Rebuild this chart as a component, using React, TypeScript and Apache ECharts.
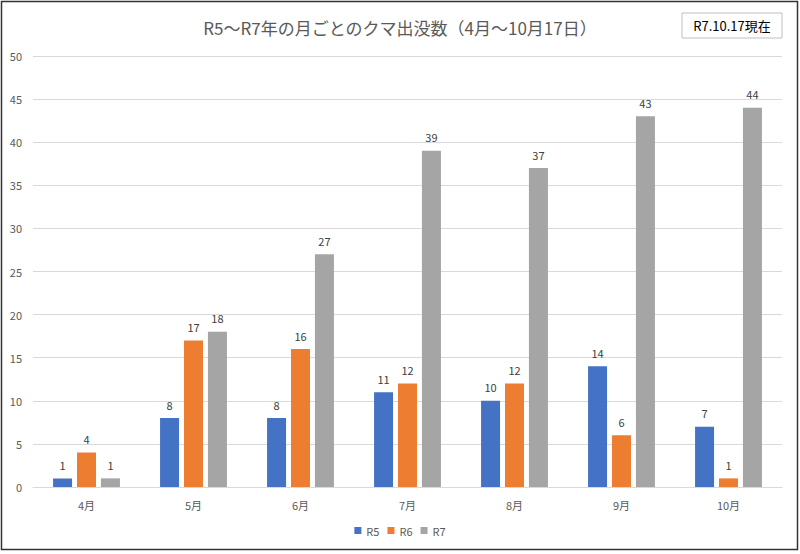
import React, { useEffect, useRef } from "react";
import * as echarts from "echarts";

const categories = ["4月", "5月", "6月", "7月", "8月", "9月", "10月"];
const r5 = [1, 8, 8, 11, 10, 14, 7];
const r6 = [4, 17, 16, 12, 12, 6, 1];
const r7 = [1, 18, 27, 39, 37, 43, 44];
const seriesNames = ["R5", "R6", "R7"];
const titleText = "R5～R7年の月ごとのクマ出没数（4月～10月17日）";
const noteText = "R7.10.17現在";

const FONT = "'Noto Sans CJK JP', 'Noto Sans', sans-serif";

export default function App() {
  const ref = useRef<HTMLDivElement>(null);
  useEffect(() => {
    document.body.style.margin = "0";
    const chart = echarts.init(ref.current!, null, { renderer: "svg" });
    const colors = ["#4472C4", "#ED7D31", "#A5A5A5"];
    const datas = [r5, r6, r7];
    chart.setOption({
      animation: false,
      backgroundColor: "#fff",
      textStyle: { fontFamily: FONT },
      title: {
        text: titleText,
        left: 395,
        textAlign: "center",
        top: 14,
        textStyle: { fontSize: 17, fontWeight: "normal", color: "#595959", fontFamily: FONT },
      },
      legend: {
        data: seriesNames,
        bottom: 13,
        left: "center",
        itemWidth: 7,
        itemHeight: 7,
        itemGap: 8,
        icon: "rect",
        textStyle: { fontSize: 11, color: "#595959", fontFamily: FONT },
      },
      grid: { left: 33, right: 18, top: 56, bottom: 67, containLabel: false },
      xAxis: {
        type: "category",
        data: categories,
        axisLine: { lineStyle: { color: "#D9D9D9" } },
        axisTick: { show: false },
        axisLabel: { color: "#595959", fontSize: 11, margin: 12, fontFamily: FONT },
      },
      yAxis: {
        type: "value",
        min: 0,
        max: 50,
        interval: 5,
        axisLine: { show: false },
        axisTick: { show: false },
        splitLine: { lineStyle: { color: "#D9D9D9" } },
        axisLabel: { color: "#595959", fontSize: 11, margin: 11, fontFamily: FONT },
      },
      graphic: [
        {
          type: "rect",
          shape: { x: 1.5, y: 1.5, width: 796, height: 548 },
          style: { fill: "none", stroke: "#333", lineWidth: 1.5 },
          silent: true,
        },
        {
          type: "rect",
          shape: { x: 682, y: 13, width: 100, height: 25 },
          style: { fill: "#fff", stroke: "#BFBFBF", lineWidth: 1 },
        },
        {
          type: "text",
          x: 732,
          y: 25.5,
          style: {
            text: noteText,
            fontSize: 13,
            fill: "#000",
            align: "center",
            verticalAlign: "middle",
            fontFamily: FONT,
          },
        },
      ],
      series: seriesNames.map((n, i) => ({
        name: n,
        type: "bar",
        data: datas[i],
        barWidth: 19,
        barGap: "26%",
        itemStyle: { color: colors[i] },
        label: {
          show: true,
          position: "top",
          distance: 8,
          fontSize: 11,
          color: "#404040",
          fontFamily: FONT,
        },
      })),
    });
    return () => chart.dispose();
  }, []);
  return <div ref={ref} style={{ width: 800, height: 554 }} />;
}
